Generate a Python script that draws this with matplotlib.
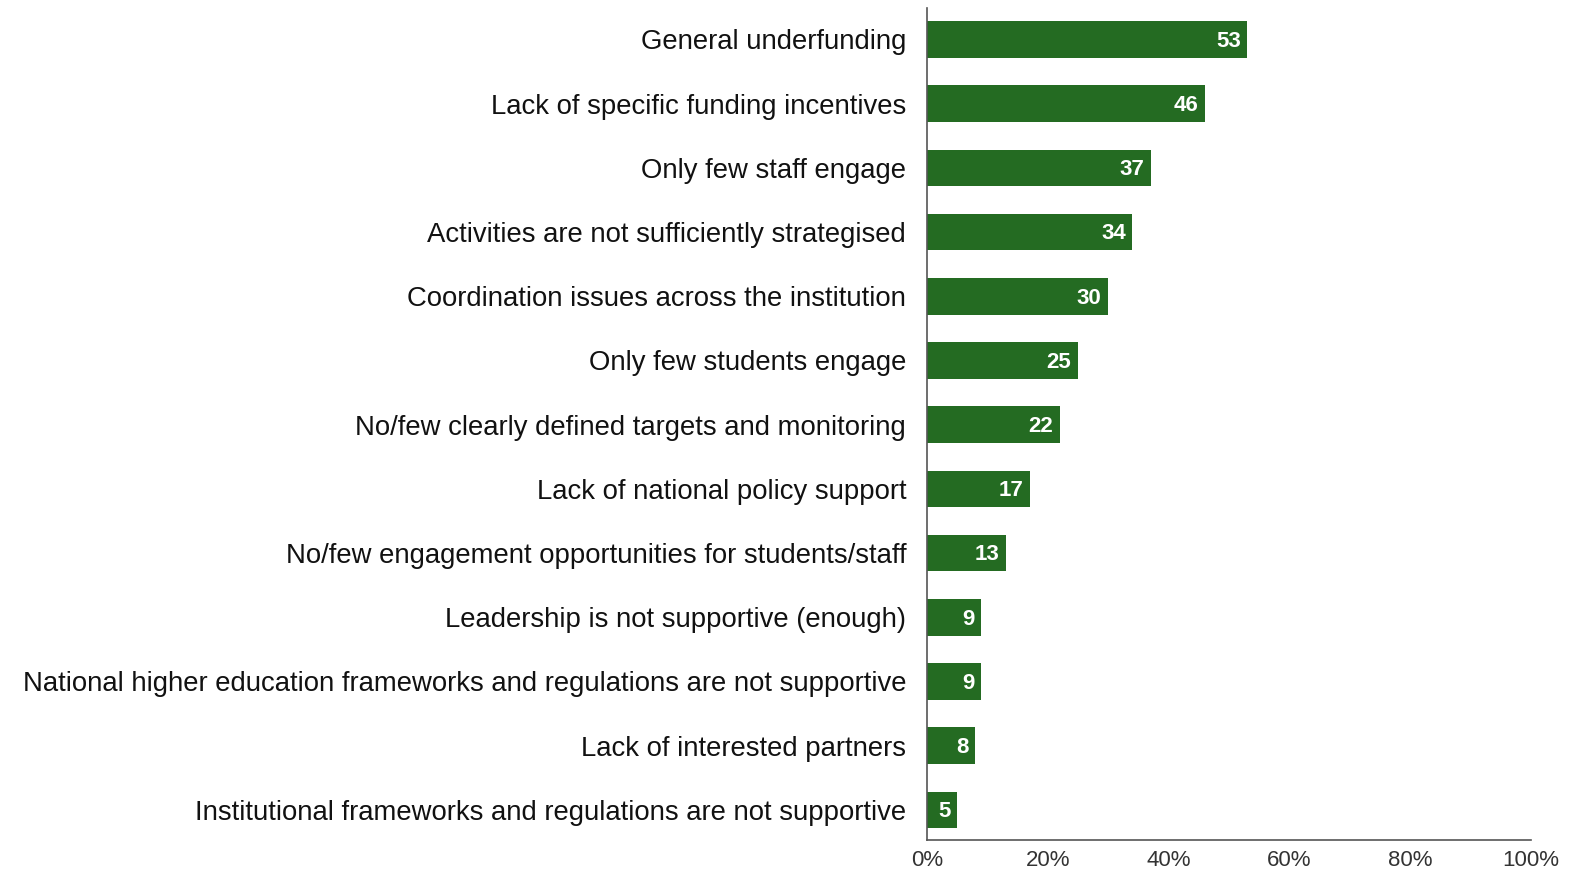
import matplotlib
matplotlib.use('Agg')
import matplotlib.pyplot as plt
from matplotlib.ticker import FuncFormatter

# obstacles and share of institutions (%)
categories = ['General underfunding',
              'Lack of specific funding incentives',
              'Only few staff engage',
              'Activities are not sufficiently strategised',
              'Coordination issues across the institution',
              'Only few students engage',
              'No/few clearly defined targets and monitoring',
              'Lack of national policy support',
              'No/few engagement opportunities for students/staff',
              'Leadership is not supportive (enough)',
              'National higher education frameworks and regulations are not supportive',
              'Lack of interested partners',
              'Institutional frameworks and regulations are not supportive']
values = [53, 46, 37, 34, 30, 25, 22, 17, 13, 9, 9, 8, 5]
xticks = [0, 20, 40, 60, 80, 100]

plt.rcParams['font.family'] = ['Liberation Sans Narrow', 'Liberation Sans', 'DejaVu Sans']

green = '#246b22'

fig = plt.figure(figsize=(15.88, 8.73), dpi=100)
ax = fig.add_axes([0.5838, 0.0378, 0.3804, 0.953])

ypos = list(range(len(values)))
ax.barh(ypos, values, height=0.57, color=green)

# value labels inside the end of each bar
for y, v in zip(ypos, values):
    ax.text(v - 1.1, y + 0.03, str(v), ha='right', va='center', color='white',
            fontsize=16, fontweight='bold')

ax.set_yticks(ypos)
ax.set_yticklabels(categories, fontsize=19.8, color='#111111', va='center_baseline')
ax.set_ylim(len(values) - 0.53, -0.49)
ax.set_xlim(0, 100)
ax.set_xticks(xticks)
ax.xaxis.set_major_formatter(FuncFormatter(lambda x, p: '%d%%' % x))
ax.tick_params(axis='x', length=0, labelsize=16, pad=7.5, labelcolor='#333333')
ax.tick_params(axis='y', length=0, pad=15)

for s in ['top', 'right']:
    ax.spines[s].set_visible(False)
ax.spines['left'].set_color('#555555')
ax.spines['bottom'].set_color('#555555')
ax.spines['left'].set_linewidth(1.2)
ax.spines['bottom'].set_linewidth(1.2)

fig.savefig('out.png', dpi=100)
